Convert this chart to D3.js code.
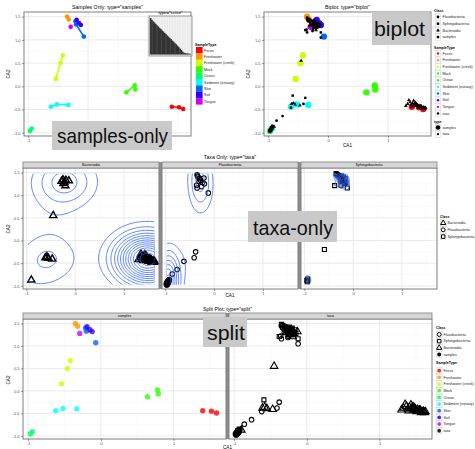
<!DOCTYPE html>
<html>
<head>
<meta charset="utf-8">
<script src="https://cdn.jsdelivr.net/npm/d3@7"></script>
<style>
body { margin: 0; background: #fff; }
text { font-family: "Liberation Sans", Arial, sans-serif; }
</style>
</head>
<body>
<svg id="chart" width="475" height="449"></svg>
<script>
// ---- data ----
var sampleTypes = ["Feces", "Freshwater", "Freshwater (creek)", "Mock", "Ocean",
                   "Sediment (estuary)", "Skin", "Soil", "Tongue"];
var sampleColors = ["#FF0000", "#FF9900", "#CCFF00", "#33FF00", "#00FF66",
                    "#00FFFF", "#0066FF", "#3300FF", "#CC00FF"];

var sampleType = ["Feces", "Feces", "Feces", "Freshwater", "Freshwater",
  "Freshwater (creek)", "Freshwater (creek)", "Freshwater (creek)",
  "Mock", "Mock", "Mock", "Ocean", "Ocean",
  "Sediment (estuary)", "Sediment (estuary)", "Sediment (estuary)",
  "Skin", "Skin", "Skin", "Soil", "Soil", "Soil", "Tongue"];
var sampleCA1 = [1.40, 1.52, 1.59, -0.35, -0.32, -0.42, -0.46, -0.54, 0.64, 0.78, 0.79,
  -0.97, -0.94, -0.62, -0.52, -0.33, -0.21, -0.20, -0.07, -0.19, -0.15, -0.12, -0.29];
var sampleCA2 = [-0.44, -0.45, -0.49, 1.50, 1.44, 0.67, 0.50, 0.16, -0.13, 0.02, -0.07,
  -0.96, -0.91, -0.44, -0.39, -0.40, 1.40, 1.33, 1.07, 1.43, 1.36, 1.32, 1.28];

var bacteroidia = [[-0.28, 1.31], [-0.25, 1.34], [-0.22, 1.29], [-0.19, 1.33], [-0.13, 1.32],
  [-0.20, 1.21], [-0.24, 1.26], [-0.45, 0.55], [-0.61, -0.38], [-0.58, -0.36], [-0.55, -0.39],
  [-0.47, -0.41], [-0.90, -0.87], [1.30, -0.42], [1.33, -0.38], [1.35, -0.30], [1.37, -0.34],
  [1.39, -0.40], [1.41, -0.36], [1.43, -0.31], [1.44, -0.39], [1.46, -0.42], [1.48, -0.38],
  [1.50, -0.43], [1.52, -0.41], [1.54, -0.45], [1.56, -0.43], [1.58, -0.46], [1.60, -0.45],
  [1.62, -0.48], [1.46, -0.35], [1.51, -0.46], [1.57, -0.48], [1.40, -0.44], [1.63, -0.46],
  [1.49, -0.40], [1.53, -0.44], [1.59, -0.47], [1.45, -0.37], [1.55, -0.42], [1.61, -0.47]];
var flavobacteriia = [[-0.35, 1.45], [-0.34, 1.42], [-0.33, 1.40], [-0.36, 1.22], [-0.35, 1.16],
  [-0.28, 1.33], [-0.24, 1.28], [-0.21, 1.38], [-0.20, 1.25], [-0.26, 1.19], [-0.12, 1.05],
  [-0.31, 1.30], [-0.30, 1.37], [-0.38, -0.25], [-0.41, -0.38], [-0.62, -0.46], [-0.76, -0.64],
  [-0.86, -0.74], [-0.97, -0.96], [-0.96, -0.94], [-0.95, -0.92], [-0.94, -0.90], [-0.93, -0.88],
  [-0.98, -0.97], [-0.92, -0.86], [-0.95, -0.95], [-0.96, -0.91], [-0.97, -0.93], [-0.94, -0.93],
  [-0.93, -0.91], [-0.96, -0.96], [-0.97, -0.98], [-0.95, -0.94], [-0.94, -0.92], [-0.96, -0.92],
  [-0.98, -0.95], [-0.95, -0.90], [-0.93, -0.87], [-0.97, -0.95], [-0.96, -0.97], [-0.94, -0.89],
  [-0.95, -0.93]];
var sphingobacteriia = [[-0.35, 1.48], [-0.33, 1.46], [-0.31, 1.44], [-0.29, 1.42], [-0.27, 1.40],
  [-0.25, 1.38], [-0.23, 1.36], [-0.21, 1.34], [-0.19, 1.32], [-0.17, 1.30], [-0.24, 1.42],
  [-0.20, 1.40], [-0.22, 1.30], [-0.18, 1.26], [-0.15, 1.28], [-0.38, 1.21], [-0.25, 1.22],
  [-0.12, 1.16], [-0.26, 1.33], [-0.16, 1.36], [-0.59, -0.20], [-0.95, -0.88], [-0.93, -0.85],
  [-0.94, -0.91]];

var screeValues = [1.00, 0.95, 0.91, 0.88, 0.84, 0.80, 0.77, 0.73, 0.70, 0.66, 0.63, 0.59, 0.56,
  0.52, 0.49, 0.45, 0.42, 0.38, 0.35, 0.31, 0.28, 0.24, 0.20, 0.16, 0.12, 0.08, 0.05, 0.04,
  0.03, 0.03, 0.02, 0.02];

var xTicks = [-1, 0, 1];
var yTicks = [-1, -0.5, 0, 0.5, 1, 1.5];
var xMinor = [-0.5, 0.5, 1.5];
var yMinor = [-0.75, -0.25, 0.25, 0.75, 1.25];

// kernel widths (sd along CA1, CA2) used for the density contours of each class
var kernelWidth = { Bacteroidia: [0.42, 0.36], Flavobacteriia: [0.15, 0.42], Sphingobacteriia: [0.05, 0.07] };

// ---- setup ----
var svg = d3.select("#chart");
var xDom = [-1.07, 1.72], yDom = [-1.07, 1.60];
var colorOf = d3.scaleOrdinal().domain(sampleTypes.concat(["taxa"])).range(sampleColors.concat(["#000000"]));
var shapeOf = { Bacteroidia: d3.symbolTriangle, Flavobacteriia: d3.symbolCircle, Sphingobacteriia: d3.symbolSquare };
var samples = sampleCA1.map(function(v, i) { return { x: v, y: sampleCA2[i], type: sampleType[i] }; });
var taxaSets = { Bacteroidia: bacteroidia, Flavobacteriia: flavobacteriia, Sphingobacteriia: sphingobacteriia };
var classOrder = ["Flavobacteriia", "Sphingobacteriia", "Bacteroidia"];
var allTaxa = bacteroidia.concat(flavobacteriia, sphingobacteriia);
var taxaExtX = d3.extent(allTaxa, function(d) { return d[0]; });
var taxaExtY = d3.extent(allTaxa, function(d) { return d[1]; });

function panel(x0, x1, y0, y1) {
  var x = d3.scaleLinear().domain(xDom).range([x0, x1]);
  var y = d3.scaleLinear().domain(yDom).range([y1, y0]);
  var g = svg.append("g");
  g.append("rect").attr("x", x0).attr("y", y0).attr("width", x1 - x0).attr("height", y1 - y0).attr("fill", "#fff");
  g.selectAll(".xm").data(xMinor).enter().append("line")
    .attr("x1", x).attr("x2", x).attr("y1", y0).attr("y2", y1).attr("stroke", "#F4F4F4").attr("stroke-width", 0.5);
  g.selectAll(".ym").data(yMinor).enter().append("line")
    .attr("y1", y).attr("y2", y).attr("x1", x0).attr("x2", x1).attr("stroke", "#F4F4F4").attr("stroke-width", 0.5);
  g.selectAll(".xg").data(xTicks).enter().append("line")
    .attr("x1", x).attr("x2", x).attr("y1", y0).attr("y2", y1).attr("stroke", "#E6E6E6").attr("stroke-width", 0.8);
  g.selectAll(".yg").data(yTicks).enter().append("line")
    .attr("y1", y).attr("y2", y).attr("x1", x0).attr("x2", x1).attr("stroke", "#E6E6E6").attr("stroke-width", 0.8);
  return { x: x, y: y, g: g, x0: x0, x1: x1, y0: y0, y1: y1 };
}

function frame(p) {
  svg.append("rect").attr("x", p.x0).attr("y", p.y0).attr("width", p.x1 - p.x0).attr("height", p.y1 - p.y0)
    .attr("fill", "none").attr("stroke", "#7F7F7F").attr("stroke-width", 1);
}

function xAxis(p) {
  var a = svg.append("g").attr("transform", "translate(0," + p.y1 + ")")
    .call(d3.axisBottom(p.x).tickValues(xTicks).tickSize(2).tickPadding(1.5).tickFormat(function(d) { return String(d); }));
  styleAxis(a);
}
function yAxis(p) {
  var a = svg.append("g").attr("transform", "translate(" + p.x0 + ",0)")
    .call(d3.axisLeft(p.y).tickValues(yTicks).tickSize(2).tickPadding(1.5).tickFormat(function(d) { return d.toFixed(1); }));
  styleAxis(a);
}
function styleAxis(a) {
  a.select(".domain").remove();
  a.selectAll(".tick line").attr("stroke", "#333").attr("stroke-width", 0.5);
  a.selectAll("text").attr("font-size", 4).attr("fill", "#4D4D4D").attr("font-family", "Liberation Sans, Arial, sans-serif");
}
function label(txt, x, y, size, rotate, weight) {
  var t = svg.append("text").attr("x", x).attr("y", y).attr("text-anchor", "middle")
    .attr("font-size", size).attr("fill", "#000").text(txt);
  if (weight) t.attr("font-weight", weight);
  if (rotate) t.attr("transform", "rotate(-90," + x + "," + y + ")");
  return t;
}
function strip(x0, x1, y0, y1, txt) {
  svg.append("rect").attr("x", x0).attr("y", y0).attr("width", x1 - x0).attr("height", y1 - y0)
    .attr("fill", "#D6D6D6").attr("stroke", "#7F7F7F").attr("stroke-width", 0.8);
  label(txt, (x0 + x1) / 2, y1 - 1.6, 3.6);
}

// ---- 2d kernel density on a grid over the taxa range, contoured with d3.contours ----
function drawDensity(p, pts, bw, clipId) {
  var n = 100;
  var ex = taxaExtX, ey = taxaExtY;
  var hx = bw[0], hy = bw[1];
  var sx = (ex[1] - ex[0]) / (n - 1), sy = (ey[1] - ey[0]) / (n - 1);
  var z = new Array(n * n);
  for (var j = 0; j < n; j++) {
    var gy = ey[0] + j * sy;
    for (var i = 0; i < n; i++) {
      var gx = ex[0] + i * sx, s = 0;
      for (var k = 0; k < pts.length; k++) {
        var u = (gx - pts[k][0]) / hx, w = (gy - pts[k][1]) / hy;
        s += Math.exp(-0.5 * (u * u + w * w));
      }
      z[j * n + i] = s / (pts.length * 2 * Math.PI * hx * hy);
    }
  }
  var zr = d3.extent(z);
  var th = d3.ticks(zr[0], zr[1], 10).filter(function(t) { return t > zr[0]; });
  var cs = d3.contours().size([n, n]).thresholds(th)(z);
  var cx0 = Math.max(p.x(ex[0] + 0.3 * sx), p.x0), cx1 = Math.min(p.x(ex[1] - 0.3 * sx), p.x1);
  var cy0 = Math.max(p.y(ey[1] - 0.3 * sy), p.y0), cy1 = Math.min(p.y(ey[0] + 0.3 * sy), p.y1);
  svg.append("clipPath").attr("id", clipId).append("rect")
    .attr("x", cx0).attr("y", cy0).attr("width", cx1 - cx0).attr("height", cy1 - cy0);
  var toPx = function(pt) {
    return p.x(ex[0] + (pt[0] - 0.5) * sx).toFixed(2) + "," + p.y(ey[0] + (pt[1] - 0.5) * sy).toFixed(2);
  };
  svg.append("g").attr("clip-path", "url(#" + clipId + ")")
    .selectAll("path").data(cs).enter().append("path")
    .attr("d", function(c) {
      var d = "";
      c.coordinates.forEach(function(poly) {
        poly.forEach(function(ring) { d += "M" + ring.map(toPx).join("L") + "Z"; });
      });
      return d;
    })
    .attr("fill", "none").attr("stroke", "#3366FF").attr("stroke-width", 0.8);
}

function openShapes(p, cls, pts, size, sw) {
  svg.append("g").selectAll("path").data(pts).enter().append("path")
    .attr("d", d3.symbol().type(shapeOf[cls]).size(size))
    .attr("transform", function(d) { return "translate(" + p.x(d[0]) + "," + p.y(d[1]) + ")"; })
    .attr("fill", "none").attr("stroke", "#000").attr("stroke-width", sw);
}

// ---- panel 1: samples only ----
var p1 = panel(24, 191, 12, 136);
var byType = d3.group(samples, function(d) { return d.type; });
byType.forEach(function(pts, t) {
  var sorted = pts.slice().sort(function(a, b) { return a.x - b.x; });
  svg.append("path").datum(sorted)
    .attr("d", d3.line().x(function(d) { return p1.x(d.x); }).y(function(d) { return p1.y(d.y); }))
    .attr("fill", "none").attr("stroke", colorOf(t)).attr("stroke-width", 1.6);
});
svg.append("g").selectAll("circle").data(samples).enter().append("circle")
  .attr("cx", function(d) { return p1.x(d.x); }).attr("cy", function(d) { return p1.y(d.y); })
  .attr("r", 2.3).attr("fill", function(d) { return colorOf(d.type); });
frame(p1); xAxis(p1); yAxis(p1);
label('Samples Only: type="samples"', 107.5, 8.5, 5.2);
label("CA2", 10, 74, 4.6, true);

// scree inset
var sx0 = 149, sx1 = 192, sy0 = 16, sy1 = 56;
svg.append("rect").attr("x", sx0).attr("y", sy0).attr("width", sx1 - sx0).attr("height", sy1 - sy0).attr("fill", "#EBEBEB");
var sb = d3.scaleBand().domain(d3.range(screeValues.length)).range([sx0 + 1, sx1 - 1]).padding(0);
var sy = d3.scaleLinear().domain([0, 1]).range([sy1 - 1.5, sy0 + 2]);
svg.append("g").selectAll("line").data(d3.range(0, screeValues.length, 2)).enter().append("line")
  .attr("x1", function(d) { return sb(d) + sb.bandwidth() / 2; }).attr("x2", function(d) { return sb(d) + sb.bandwidth() / 2; })
  .attr("y1", sy0).attr("y2", sy1).attr("stroke", "#fff").attr("stroke-width", 0.4);
svg.append("g").selectAll("rect").data(screeValues).enter().append("rect")
  .attr("x", function(d, i) { return sb(i) - 0.2; }).attr("width", sb.bandwidth() + 0.4)
  .attr("y", function(d) { return sy(d); }).attr("height", function(d) { return sy(0) - sy(d); })
  .attr("fill", "#333");
svg.append("rect").attr("x", sx0).attr("y", sy0).attr("width", sx1 - sx0).attr("height", sy1 - sy0)
  .attr("fill", "none").attr("stroke", "#7F7F7F").attr("stroke-width", 0.8);
label('type="scree"', 170.5, 14, 4.3);

// legend of panel 1
svg.append("text").attr("x", 195).attr("y", 45.5).attr("font-size", 3.7).attr("font-weight", "bold").text("SampleType");
sampleTypes.forEach(function(t, i) {
  var yy = 47 + i * 6.4;
  svg.append("rect").attr("x", 196).attr("y", yy).attr("width", 6.6).attr("height", 6.4).attr("fill", colorOf(t));
  svg.append("text").attr("x", 204).attr("y", yy + 4.5).attr("font-size", 3.6).attr("fill", "#222").text(t);
});

// ---- panel 2: biplot ----
var p2 = panel(264, 431, 12, 136);
svg.append("g").selectAll("circle").data(samples).enter().append("circle")
  .attr("cx", function(d) { return p2.x(d.x); }).attr("cy", function(d) { return p2.y(d.y); })
  .attr("r", 3.2).attr("fill", function(d) { return colorOf(d.type); });
classOrder.forEach(function(cls) {
  svg.append("g").selectAll("path").data(taxaSets[cls]).enter().append("path")
    .attr("d", d3.symbol().type(shapeOf[cls]).size(6))
    .attr("transform", function(d) { return "translate(" + p2.x(d[0]) + "," + p2.y(d[1]) + ")"; })
    .attr("fill", "#000");
});
frame(p2); xAxis(p2); yAxis(p2);
label('Biplot: type="biplot"', 347.5, 8.5, 5.2);
label("CA2", 250, 74, 4.6, true);
label("CA1", 347.5, 147, 4.6);

function legendKey(x, yc, w) {
  svg.append("rect").attr("x", x).attr("y", yc - 3.2).attr("width", w).attr("height", 6.4)
    .attr("fill", "#fff").attr("stroke", "#CCCCCC").attr("stroke-width", 0.5);
}
function legendText(x, y, txt, bold) {
  var t = svg.append("text").attr("x", x).attr("y", y).attr("font-size", 3.6).attr("fill", "#222").text(txt);
  if (bold) t.attr("font-weight", "bold").attr("fill", "#000");
}
// biplot legend
legendText(434, 11.5, "Class", true);
classOrder.concat(["samples"]).forEach(function(c, i) {
  var yc = 17 + i * 6.67;
  legendKey(435.5, yc, 5);
  svg.append("path").attr("d", d3.symbol().type(shapeOf[c] || d3.symbolCircle).size(6))
    .attr("transform", "translate(438," + yc + ")").attr("fill", "#000");
  legendText(442.5, yc + 1.3, c);
});
legendText(434, 48.5, "SampleType", true);
sampleTypes.concat(["taxa"]).forEach(function(t, i) {
  var yc = 53.5 + i * 6.67;
  legendKey(435.5, yc, 5);
  svg.append("circle").attr("cx", 438).attr("cy", yc).attr("r", 1.2).attr("fill", colorOf(t));
  legendText(442.5, yc + 1.3, t);
});
legendText(434, 122.5, "type", true);
[["samples", 2.3], ["taxa", 1.1]].forEach(function(e, i) {
  var yc = 127.5 + i * 6.67;
  legendKey(435.5, yc, 5);
  svg.append("circle").attr("cx", 438).attr("cy", yc).attr("r", e[1]).attr("fill", "#000");
  legendText(442.5, yc + 1.3, e[0]);
});

// ---- panel 3: taxa only, one facet per class ----
var facets3 = [["Bacteroidia", 23, 159], ["Flavobacteriia", 162, 298], ["Sphingobacteriia", 301, 437]];
svg.append("rect").attr("x", 159).attr("y", 162).attr("width", 3).attr("height", 127).attr("fill", "#8C8C8C");
svg.append("rect").attr("x", 298).attr("y", 162).attr("width", 3).attr("height", 127).attr("fill", "#8C8C8C");
facets3.forEach(function(f, i) {
  var p = panel(f[1], f[2], 168, 289);
  openShapes(p, f[0], taxaSets[f[0]], f[0] === "Bacteroidia" ? 22 : 16, f[0] === "Bacteroidia" ? 1.4 : 1.1);
  drawDensity(p, taxaSets[f[0]], kernelWidth[f[0]], "clip" + i);
  frame(p); xAxis(p);
  if (i === 0) yAxis(p);
  strip(f[1], f[2], 162, 168, f[0]);
});
label('Taxa Only: type="taxa"', 230, 158.5, 5.2);
label("CA2", 10, 229, 4.6, true);
label("CA1", 230, 297, 4.6);
legendText(440, 218, "Class", true);
["Bacteroidia", "Flavobacteriia", "Sphingobacteriia"].forEach(function(c, i) {
  var yc = 223 + i * 6.8;
  legendKey(440.5, yc, 5.5);
  svg.append("path").attr("d", d3.symbol().type(shapeOf[c]).size(12))
    .attr("transform", "translate(443.2," + yc + ")").attr("fill", "none").attr("stroke", "#000").attr("stroke-width", 1);
  legendText(447.5, yc + 1.3, c);
});

// ---- panel 4: split ----
svg.append("rect").attr("x", 226).attr("y", 313).attr("width", 3).attr("height", 126).attr("fill", "#8C8C8C");
var p4a = panel(23, 226, 319, 439);
svg.append("g").selectAll("circle").data(samples).enter().append("circle")
  .attr("cx", function(d) { return p4a.x(d.x); }).attr("cy", function(d) { return p4a.y(d.y); })
  .attr("r", 2.7).attr("fill", function(d) { return colorOf(d.type); }).attr("fill-opacity", 0.8);
frame(p4a); xAxis(p4a); yAxis(p4a);
strip(23, 226, 313, 319, "samples");
var p4b = panel(229, 432, 319, 439);
classOrder.forEach(function(cls) {
  openShapes(p4b, cls, taxaSets[cls], cls === "Bacteroidia" ? 24 : 16, 1.1);
});
frame(p4b); xAxis(p4b);
strip(229, 432, 313, 319, "taxa");
label('Split Plot: type="split"', 227.5, 311, 5.2);
label("CA2", 10, 380, 4.6, true);
label("CA1", 227.5, 449, 4.6);
legendText(436, 329, "Class", true);
classOrder.concat(["samples"]).forEach(function(c, i) {
  var yc = 334.5 + i * 6.67;
  legendKey(436.5, yc, 5.5);
  var s = svg.append("path").attr("d", d3.symbol().type(shapeOf[c] || d3.symbolCircle).size(12))
    .attr("transform", "translate(439.2," + yc + ")");
  if (c === "samples") s.attr("fill", "#000");
  else s.attr("fill", "none").attr("stroke", "#000").attr("stroke-width", 1);
  legendText(443.5, yc + 1.3, c);
});
legendText(436, 364, "SampleType", true);
sampleTypes.concat(["taxa"]).forEach(function(t, i) {
  var yc = 370.7 + i * 6.67;
  legendKey(436.5, yc, 5.5);
  svg.append("circle").attr("cx", 439.2).attr("cy", yc).attr("r", 1.9).attr("fill", colorOf(t)).attr("fill-opacity", 0.85);
  legendText(443.5, yc + 1.3, t);
});

// ---- grey caption boxes ----
var captions = [["samples-only", 52, 121, 120, 29, 57, 143, 111],
                ["biplot", 372, 12, 58, 33, 374, 36, 51],
                ["taxa-only", 248, 211, 89, 31, 253, 235, 80],
                ["split", 203, 317, 44, 30, 207, 340, 38]];
captions.forEach(function(c) {
  svg.append("rect").attr("x", c[1]).attr("y", c[2]).attr("width", c[3]).attr("height", c[4]).attr("fill", "#C9C9C9");
  svg.append("text").attr("x", c[5]).attr("y", c[6]).attr("font-family", "Lato, sans-serif")
    .attr("font-size", 21).attr("fill", "#111").attr("textLength", c[7]).attr("lengthAdjust", "spacingAndGlyphs")
    .text(c[0]);
});
</script>
</body>
</html>
